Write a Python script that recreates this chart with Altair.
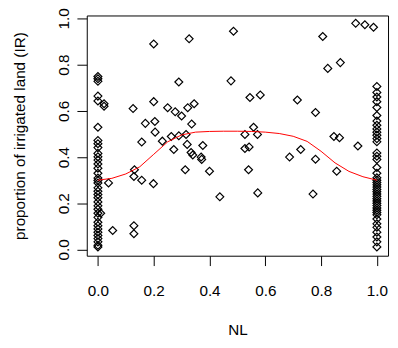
import altair as alt
import pandas as pd

# IR values of the points sitting on NL = 0
ir_at_nl0 = [0.749, 0.739, 0.728, 0.664, 0.643, 0.529, 0.472, 0.458, 0.441, 0.416,
             0.401, 0.387, 0.370, 0.352, 0.330, 0.309, 0.299, 0.288, 0.267, 0.252,
             0.238, 0.224, 0.206, 0.189, 0.174, 0.157, 0.139, 0.118, 0.103, 0.089,
             0.075, 0.061, 0.047, 0.033, 0.018, 0.011]

# IR values of the points sitting on NL = 1
ir_at_nl1 = [0.706, 0.680, 0.660, 0.640, 0.615, 0.580, 0.556, 0.538, 0.522, 0.508,
             0.495, 0.480, 0.466, 0.418, 0.404, 0.390, 0.355, 0.330, 0.310, 0.300,
             0.290, 0.280, 0.270, 0.260, 0.250, 0.240, 0.230, 0.220, 0.210, 0.200,
             0.190, 0.180, 0.170, 0.160, 0.150, 0.132, 0.111, 0.096, 0.075, 0.054,
             0.033, 0.011]

# remaining points (NL, IR)
nl_other = [0.022, 0.022, 0.010, 0.038, 0.053, 0.126, 0.200, 0.200, 0.250, 0.277,
            0.300, 0.290, 0.327, 0.486, 0.477, 0.545, 0.582, 0.715, 0.345, 0.322,
            0.336, 0.558, 0.924, 0.957, 0.988, 0.806, 0.824, 0.869, 0.780, 0.170,
            0.204, 0.129, 0.129, 0.131, 0.129, 0.157, 0.157, 0.199, 0.205, 0.231,
            0.263, 0.290, 0.272, 0.316, 0.313, 0.320, 0.376, 0.334, 0.340, 0.370,
            0.372, 0.400, 0.437, 0.527, 0.572, 0.527, 0.542, 0.540, 0.573, 0.687,
            0.727, 0.846, 0.866, 0.932, 0.780, 0.856, 0.771]
ir_other = [0.631, 0.620, 0.157, 0.288, 0.082, 0.610, 0.890, 0.640, 0.614, 0.596,
            0.578, 0.725, 0.912, 0.945, 0.730, 0.658, 0.669, 0.647, 0.631, 0.614,
            0.543, 0.529, 0.979, 0.973, 0.962, 0.922, 0.784, 0.809, 0.593, 0.546,
            0.554, 0.103, 0.068, 0.345, 0.316, 0.465, 0.300, 0.285, 0.508, 0.469,
            0.489, 0.492, 0.433, 0.498, 0.345, 0.455, 0.450, 0.420, 0.409, 0.400,
            0.390, 0.339, 0.228, 0.498, 0.498, 0.437, 0.444, 0.345, 0.245, 0.400,
            0.433, 0.489, 0.484, 0.448, 0.391, 0.339, 0.240]

# smoothed (red) curve
smooth_nl = [0.0, 0.05, 0.1, 0.15, 0.2, 0.25, 0.3, 0.35, 0.4, 0.45, 0.5,
             0.55, 0.6, 0.65, 0.7, 0.75, 0.8, 0.85, 0.9, 0.95, 1.0]
smooth_ir = [0.300, 0.308, 0.327, 0.358, 0.412, 0.466, 0.496, 0.508, 0.511, 0.512, 0.512,
             0.511, 0.508, 0.502, 0.490, 0.468, 0.425, 0.375, 0.338, 0.315, 0.300]

tick_values = [0.0, 0.2, 0.4, 0.6, 0.8, 1.0]

pts = pd.DataFrame({
    "NL": [0.0] * len(ir_at_nl0) + [1.0] * len(ir_at_nl1) + nl_other,
    "IR": ir_at_nl0 + ir_at_nl1 + ir_other,
})
curve = pd.DataFrame({"NL": smooth_nl, "IR": smooth_ir})

FONT = "Liberation Sans"

x_enc = alt.X(
    "NL:Q",
    scale=alt.Scale(domain=[-0.04, 1.04], nice=False, zero=False),
    axis=alt.Axis(
        values=tick_values, format=".1f", title="NL", grid=False, domain=False,
        tickSize=10, tickColor="black", labelFont=FONT, labelFontSize=15.5,
        labelColor="black", labelPadding=18, labelBaseline="top",
        labelFlush=False, labelOverlap=False,
        titleFont=FONT, titleFontSize=15.5, titleFontWeight="normal",
        titleColor="black", titleY=75, titleBaseline="middle",
    ),
)
y_enc = alt.Y(
    "IR:Q",
    scale=alt.Scale(domain=[-0.027, 1.013], nice=False, zero=False),
    axis=alt.Axis(
        values=tick_values, format=".1f", title="proportion of irrigated land (IR)",
        grid=False, domain=False, tickSize=10, tickColor="black",
        labelFont=FONT, labelFontSize=15.5, labelColor="black",
        labelAngle=270, labelAlign="center", labelBaseline="middle",
        labelPadding=14, labelFlush=False, labelOverlap=False,
        titleFont=FONT, titleFontSize=15.5, titleFontWeight="normal",
        titleColor="black", titleAngle=270, titleAlign="center",
        titleBaseline="middle", titleX=-68, titleY=122,
    ),
)

points = alt.Chart(pts).mark_point(
    shape="diamond", filled=False, color="black", strokeWidth=1.2, size=64, opacity=1
).encode(x=x_enc, y=y_enc)

line = alt.Chart(curve).mark_line(color="#ff0000", strokeWidth=1).encode(
    x="NL:Q", y="IR:Q"
)

chart = (
    alt.layer(points, line)
    .properties(
        width=306,
        height=244,
        autosize=alt.AutoSizeParams(type="none"),
        padding={"left": 80, "top": 5, "right": 2, "bottom": 83},
        background="white",
    )
    .configure_view(stroke="black", strokeWidth=1)
)

chart.save("out.html", embed_options={"renderer": "svg", "actions": False})
